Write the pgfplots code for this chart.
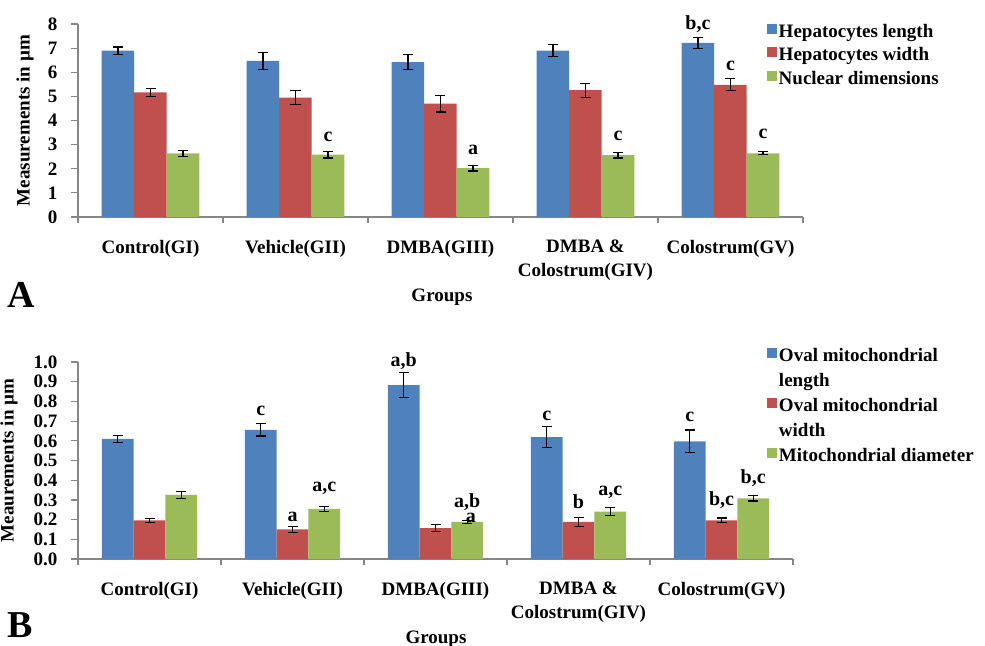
\documentclass[border=0pt]{standalone}
\usepackage{pgfplots}
\pgfplotsset{compat=1.18}
\usepackage{pgfplotstable}
\usepackage{fontspec}
\setmainfont{Liberation Serif}
\definecolor{cblue}{HTML}{4F81BD}
\definecolor{cred}{HTML}{C0504D}
\definecolor{cgreen}{HTML}{9BBB59}
\definecolor{axgray}{HTML}{868686}
\newcommand\lab{\fontsize{9.5}{12}\selectfont\bfseries}
\newcommand\ann{\fontsize{10}{12}\selectfont\bfseries}

\pgfplotstableread{
x L Le W We N Ne
0 6.90 0.15 5.17 0.16 2.64 0.12
1 6.47 0.35 4.95 0.29 2.59 0.14
2 6.42 0.31 4.70 0.35 2.03 0.12
3 6.90 0.26 5.26 0.29 2.57 0.12
4 7.22 0.22 5.48 0.25 2.64 0.06
}\dataA

\pgfplotstableread{
x L Le W We D De
0 0.610 0.018 0.196 0.010 0.325 0.017
1 0.656 0.032 0.151 0.015 0.255 0.013
2 0.883 0.062 0.157 0.018 0.188 0.009
3 0.619 0.053 0.188 0.022 0.240 0.021
4 0.597 0.058 0.196 0.012 0.308 0.013
}\dataB

\pgfplotsset{
 /pgfplots/ybar legend/.style={/pgfplots/legend image code/.code={\fill[##1] (0pt,-0.5pt) rectangle (5pt,4.5pt);}},
 common/.style={
  scale only axis, clip=false,
  axis lines*=left,
  axis line style={draw=axgray, line width=0.6pt, -},
  ybar,
  xmin=-0.5, xmax=4.5,
  xtick={0,...,4},
  minor xtick={-0.5,0.5,...,4.5},
  tick style={draw=axgray, line width=0.6pt},
  major x tick style={draw=none},
  tick align=outside,
  major tick length=3.5pt, minor tick length=3pt,
  xticklabels={Control(GI),Vehicle(GII),DMBA(GIII),{DMBA \&\\Colostrum(GIV)},Colostrum(GV)},
  xticklabel style={font=\lab, align=center, yshift=-4.5pt},
  yticklabel style={font=\lab, xshift=-3.3pt},
  /pgf/number format/assume math mode=true,
  ylabel style={font=\lab},
  xlabel style={font=\lab},
  legend style={draw=none, fill=none, font=\lab, inner sep=0pt, outer sep=0pt,
     nodes={inner sep=1pt, text height=7pt, text depth=2.5pt}, cells={anchor=west}},
  legend cell align=left,
  error bars/y dir=both, error bars/y explicit,
  error bars/error bar style={black, line width=0.6pt},
  error bars/error mark options={rotate=90, mark size=2.5pt, line width=0.6pt, black},
 }
}

\begin{document}
\begin{tikzpicture}
\path[use as bounding box] (0,0) rectangle (492.5pt,-322.5pt);

% ---------------- Panel A ----------------
\begin{axis}[common, at={(39pt,-108.5pt)}, anchor=south west,
  width=362.5pt, height=96.5pt, ymin=0, ymax=8, ytick={0,...,8},
  bar width=16.25pt,
  ylabel={Measurements in µm},
  ylabel style={at={(axis description cs:0,0.5)}, anchor=center, yshift=26.5pt},
  xlabel={Groups},
  xlabel style={at={(axis description cs:0.502,-0.415)}, anchor=center},
  legend style={at={(axis description cs:0.950,1.0155)}, anchor=north west, row sep=0.25pt}]
\addplot[fill=cblue, draw=none, bar shift=-16.25pt] table[x=x,y=L,y error=Le]{\dataA};
\addlegendentry{Hepatocytes length}
\addplot[fill=cred, draw=none, bar shift=0pt] table[x=x,y=W,y error=We]{\dataA};
\addlegendentry{Hepatocytes width}
\addplot[fill=cgreen, draw=none, bar shift=16.25pt] table[x=x,y=N,y error=Ne]{\dataA};
\addlegendentry{Nuclear dimensions}
\node[font=\ann, xshift=16.25pt] at (axis cs:1,3.32) {c};
\node[font=\ann, xshift=16.25pt] at (axis cs:2,2.78) {a};
\node[font=\ann, xshift=16.25pt] at (axis cs:3,3.36) {c};
\node[font=\ann, xshift=-16.25pt] at (axis cs:4,8.0) {b,c};
\node[font=\ann] at (axis cs:4,6.27) {c};
\node[font=\ann, xshift=16.25pt] at (axis cs:4,3.44) {c};
\end{axis}
\node[anchor=base west, inner sep=0pt, font=\fontsize{19}{19}\selectfont\bfseries] at (3.5pt,-153.5pt) {A};

% ---------------- Panel B ----------------
\begin{axis}[common, at={(39pt,-279.5pt)}, anchor=south west,
  width=357.5pt, height=98.5pt, ymin=0, ymax=1,
  ytick={0,0.1,0.2,0.3,0.4,0.5,0.6,0.7,0.8,0.9,1.0},
  yticklabel style={/pgf/number format/.cd, fixed, fixed zerofill, precision=1},
  bar width=15.85pt,
  ylabel={Meaurements in µm},
  ylabel style={at={(axis description cs:0,0.5)}, anchor=center, yshift=34.5pt},
  xlabel={Groups},
  xlabel style={at={(axis description cs:0.5007,-0.405)}, anchor=center},
  legend style={at={(axis description cs:0.9636,1.086)}, anchor=north west, row sep=1pt}]
\addplot[fill=cblue, draw=none, bar shift=-15.85pt] table[x=x,y=L,y error=Le]{\dataB};
\addlegendentry{Oval mitochondrial}
\addlegendimage{legend image code/.code={}}
\addlegendentry{length}
\addplot[fill=cred, draw=none, bar shift=0pt] table[x=x,y=W,y error=We]{\dataB};
\addlegendentry{Oval mitochondrial}
\addlegendimage{legend image code/.code={}}
\addlegendentry{width}
\addplot[fill=cgreen, draw=none, bar shift=15.85pt] table[x=x,y=D,y error=De]{\dataB};
\addlegendentry{Mitochondrial diameter}
\node[font=\ann, xshift=-15.85pt] at (axis cs:1,0.751) {c};
\node[font=\ann] at (axis cs:1,0.212) {a};
\node[font=\ann, xshift=15.85pt] at (axis cs:1,0.359) {a,c};
\node[font=\ann, xshift=-15.85pt] at (axis cs:2,1.007) {a,b};
\node[font=\ann, xshift=15.85pt] at (axis cs:2,0.290) {a,b};
\node[font=\ann, xshift=17.7pt] at (axis cs:2,0.210) {a};
\node[font=\ann, xshift=-15.85pt] at (axis cs:3,0.726) {c};
\node[font=\ann] at (axis cs:3,0.291) {b};
\node[font=\ann, xshift=15.85pt] at (axis cs:3,0.339) {a,c};
\node[font=\ann, xshift=-15.85pt] at (axis cs:4,0.719) {c};
\node[font=\ann] at (axis cs:4,0.30) {b,c};
\node[font=\ann, xshift=15.85pt] at (axis cs:4,0.413) {b,c};
\end{axis}
\node[anchor=base west, inner sep=0pt, font=\fontsize{19}{19}\selectfont\bfseries] at (3.5pt,-318.5pt) {B};
\end{tikzpicture}
\end{document}
